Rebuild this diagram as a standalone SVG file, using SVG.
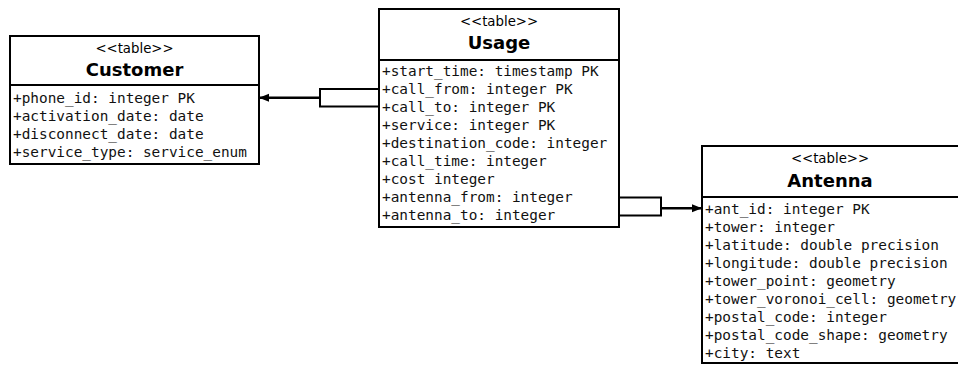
<svg xmlns="http://www.w3.org/2000/svg" width="958" height="366" viewBox="0 0 958 366">
<style>
.box{fill:#fff;stroke:#000;stroke-width:2}
.div{stroke:#000;stroke-width:2}
.st{font-family:"DejaVu Sans",sans-serif;font-size:13.3px;text-anchor:middle;fill:#000}
.tt{font-family:"DejaVu Sans",sans-serif;font-size:18px;font-weight:bold;text-anchor:middle;fill:#000}
.f{font-family:"DejaVu Sans Mono",monospace;font-size:14.4px;fill:#111}
.c{fill:none;stroke:#000;stroke-width:2}
.a{fill:none;stroke:#000;stroke-width:2.5}
</style>
<defs>
<marker id="ah" viewBox="0 0 10 10" refX="10" refY="5" markerWidth="10" markerHeight="10" markerUnits="userSpaceOnUse" orient="auto">
<path d="M0,1 L10,5 L0,9 z" fill="#000"/>
</marker>
</defs>
<rect width="958" height="366" fill="#fff"/>
<g id="customer">
<rect class="box" x="10" y="36" width="249" height="128"/>
<line class="div" x1="10" y1="85" x2="259" y2="85"/>
<text class="st" x="134.5" y="53">&lt;&lt;table&gt;&gt;</text>
<text class="tt" x="134.5" y="76">Customer</text>
<text class="f" x="13" y="103">+phone_id: integer PK</text>
<text class="f" x="13" y="121">+activation_date: date</text>
<text class="f" x="13" y="139">+disconnect_date: date</text>
<text class="f" x="13" y="157">+service_type: service_enum</text>
</g>
<g id="usage">
<rect class="box" x="379" y="9" width="240" height="218"/>
<line class="div" x1="379" y1="60" x2="619" y2="60"/>
<text class="st" x="499" y="26">&lt;&lt;table&gt;&gt;</text>
<text class="tt" x="499" y="49">Usage</text>
<text class="f" x="382" y="76">+start_time: timestamp PK</text>
<text class="f" x="382" y="94">+call_from: integer PK</text>
<text class="f" x="382" y="112">+call_to: integer PK</text>
<text class="f" x="382" y="130">+service: integer PK</text>
<text class="f" x="382" y="148">+destination_code: integer</text>
<text class="f" x="382" y="166">+call_time: integer</text>
<text class="f" x="382" y="184">+cost integer</text>
<text class="f" x="382" y="202">+antenna_from: integer</text>
<text class="f" x="382" y="220">+antenna_to: integer</text>
</g>
<g id="antenna">
<rect class="box" x="702" y="146" width="270" height="217"/>
<line class="div" x1="702" y1="197" x2="972" y2="197"/>
<text class="st" x="830" y="163">&lt;&lt;table&gt;&gt;</text>
<text class="tt" x="830" y="187">Antenna</text>
<text class="f" x="705" y="214">+ant_id: integer PK</text>
<text class="f" x="705" y="232">+tower: integer</text>
<text class="f" x="705" y="250">+latitude: double precision</text>
<text class="f" x="705" y="268">+longitude: double precision</text>
<text class="f" x="705" y="286">+tower_point: geometry</text>
<text class="f" x="705" y="304">+tower_voronoi_cell: geometry</text>
<text class="f" x="705" y="322">+postal_code: integer</text>
<text class="f" x="705" y="340">+postal_code_shape: geometry</text>
<text class="f" x="705" y="358">+city: text</text>
</g>
<g id="connectors">
<path class="c" d="M379,89 H320 V106.5 H379"/>
<line class="a" x1="320" y1="97.7" x2="259" y2="97.7" marker-end="url(#ah)"/>
<path class="c" d="M619,197.5 H661 V215.5 H619"/>
<line class="a" x1="661" y1="208.3" x2="702" y2="208.3" marker-end="url(#ah)"/>
</g>
</svg>
